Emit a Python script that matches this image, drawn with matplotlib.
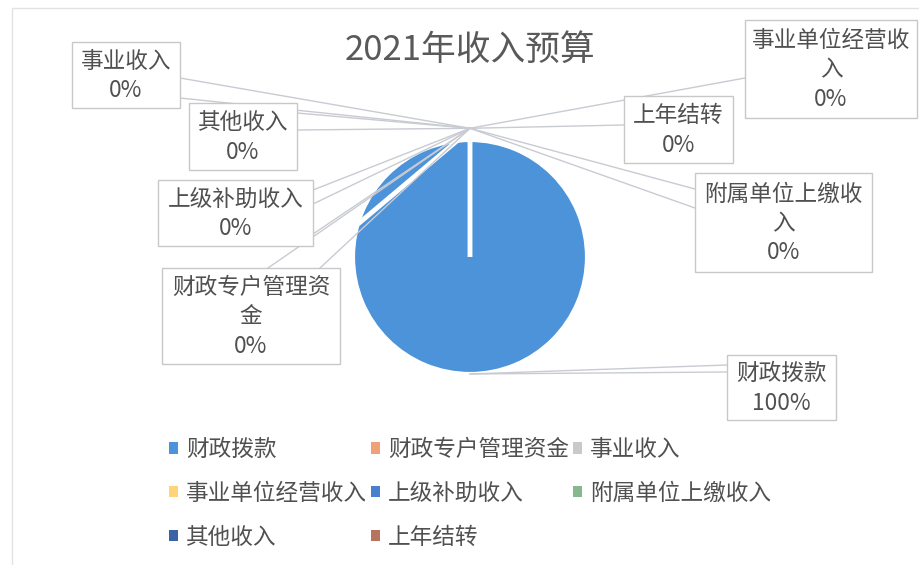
import numpy as np
import matplotlib
matplotlib.use('Agg')
import matplotlib.pyplot as plt
from matplotlib.patches import Rectangle, Patch

plt.rcParams['font.family'] = ['Noto Sans CJK SC', 'DejaVu Sans']

# data
title = '2021年收入预算'
categories = ['财政拨款', '财政专户管理资金', '事业收入', '事业单位经营收入',
              '上级补助收入', '附属单位上缴收入', '其他收入', '上年结转']
shares = [100, 0, 0, 0, 0, 0, 0, 0]
colors = ['#4d93da', '#f0a07a', '#c9c9c9', '#ffd479',
          '#4a7fd0', '#86b890', '#3a64a8', '#b8735e']

W, H = 919, 565
txt_col = '#505050'
line_col = '#c9cbd3'
fs = 16.3


def fy(y):
    # pixel row (from top) -> data y
    return H - y


fig = plt.figure(figsize=(W / 100, H / 100), dpi=100)
ax = fig.add_axes([0, 0, 1, 1])

cx, cy, r = 470, 257, 117
wedges, _ = ax.pie(shares, colors=colors, startangle=90, counterclock=False,
                   center=(cx, fy(cy)), radius=r,
                   wedgeprops=dict(edgecolor='white', linewidth=3))
ax.set_xlim(0, W)
ax.set_ylim(0, H)
ax.set_aspect('equal')
ax.axis('off')

# chart area border (only top and left visible in the scan)
ax.plot([12, 12, W], [fy(H), fy(8), fy(8)], color='#e2e2e2', lw=1, zorder=0)

ax.text(cx, fy(50), title, fontsize=25, color='#595959',
        ha='center', va='center')

# label boxes (x0, y0, x1, y1) in pixels and leader start points
boxes = {
    '财政拨款': (727, 355, 836, 420),
    '财政专户管理资金': (162, 268, 340, 364),
    '事业收入': (72, 42, 180, 108),
    '事业单位经营收入': (745, 20, 917, 118),
    '上级补助收入': (158, 180, 313, 246),
    '附属单位上缴收入': (695, 173, 872, 272),
    '其他收入': (189, 103, 297, 170),
    '上年结转': (624, 96, 733, 163),
}
leaders = {
    '财政拨款': [(727, 365), (727, 372)],
    '财政专户管理资金': [(268, 268), (320, 268)],
    '事业收入': [(180, 78), (180, 98)],
    '事业单位经营收入': [(745, 78)],
    '上级补助收入': [(313, 190), (313, 204), (313, 234)],
    '附属单位上缴收入': [(695, 189), (695, 208)],
    '其他收入': [(297, 113), (297, 130)],
    '上年结转': [(624, 125)],
}

# white streak across the upper-left of the pie
ax.plot([358, 458], [fy(224), fy(140)], color='white', lw=3.5, zorder=3,
        solid_capstyle='round')

for w, name, s in zip(wedges, categories, shares):
    mid = np.deg2rad((w.theta1 + w.theta2) / 2)
    k = 1.1 if s == 0 else 1.0
    ax_, ay_ = w.center[0] + k * r * np.cos(mid), w.center[1] + k * r * np.sin(mid)
    for (px, py) in leaders[name]:
        ax.plot([px, ax_], [fy(py), ay_], color=line_col, lw=1, zorder=4)

for name, s in zip(categories, shares):
    x0, y0, x1, y1 = boxes[name]
    ax.add_patch(Rectangle((x0, fy(y1)), x1 - x0, y1 - y0, facecolor='white',
                           edgecolor='#c8c8c8', lw=1, zorder=5))
    label = name if len(name) <= 7 else name[:7] + '\n' + name[7:]
    ax.text((x0 + x1) / 2, fy((y0 + y1) / 2 + 1), f'{label}\n{s}%',
            fontsize=fs, color=txt_col, ha='center', va='center',
            linespacing=1.35, zorder=6)

# legend, row-wise order like the original
order = [0, 3, 6, 1, 4, 7, 2, 5]
handles = [Patch(facecolor=colors[i]) for i in order]
fig.legend(handles=handles, labels=[categories[i] for i in order], ncol=3,
           loc='upper left', bbox_to_anchor=(169 / W, 1 - 438 / H),
           frameon=False, fontsize=fs, labelcolor=txt_col,
           handlelength=0.4, handleheight=0.4, handletextpad=0.35,
           columnspacing=0.18, labelspacing=0.92, borderpad=0,
           borderaxespad=0)

fig.savefig('out.png', dpi=100)
